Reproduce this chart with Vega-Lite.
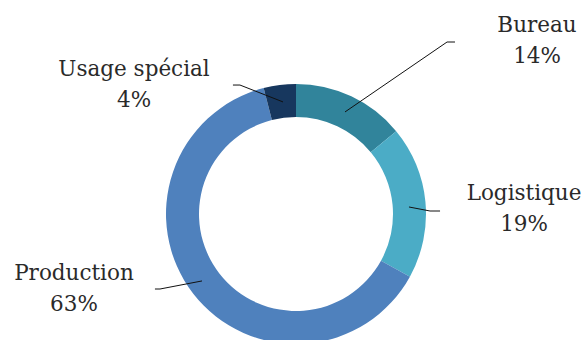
{
  "$schema": "https://vega.github.io/schema/vega-lite/v6.json",
  "width": 576,
  "height": 252,
  "autosize": {"type": "none"},
  "padding": {"left": 8, "top": 88, "right": 0, "bottom": 0},
  "background": "white",
  "config": {"view": {"stroke": null}},
  "datasets": {
    "slices": [
      {"segment": "Bureau", "share": 0.14, "rank": 1, "lx": 185.4, "ly": 140.0},
      {"segment": "Logistique", "share": 0.19, "rank": 2, "lx": 175.4, "ly": 10.8},
      {"segment": "Production", "share": 0.63, "rank": 3, "lx": -170.8, "ly": -50.8},
      {"segment": "Usage spécial", "share": 0.04, "rank": 4, "lx": -124.6, "ly": 106.2}
    ],
    "leaders": [
      {"segment": "Bureau", "step": 1, "x": 37.7, "y": 78.5},
      {"segment": "Bureau", "step": 2, "x": 116.2, "y": 132.3},
      {"segment": "Bureau", "step": 3, "x": 122.3, "y": 132.3},
      {"segment": "Logistique", "step": 1, "x": 86.9, "y": 5.4},
      {"segment": "Logistique", "step": 2, "x": 103.1, "y": 2.3},
      {"segment": "Logistique", "step": 3, "x": 110.8, "y": 2.3},
      {"segment": "Production", "step": 1, "x": -72.3, "y": -51.5},
      {"segment": "Production", "step": 2, "x": -104.6, "y": -57.7},
      {"segment": "Production", "step": 3, "x": -108.5, "y": -57.7},
      {"segment": "Usage spécial", "step": 1, "x": -10.0, "y": 86.2},
      {"segment": "Usage spécial", "step": 2, "x": -43.1, "y": 99.2},
      {"segment": "Usage spécial", "step": 3, "x": -48.5, "y": 99.2}
    ]
  },
  "layer": [
    {
      "data": {"name": "slices"},
      "mark": {"type": "arc", "outerRadius": 130, "innerRadius": 97},
      "encoding": {
        "theta": {"field": "share", "type": "quantitative", "stack": true},
        "order": {"field": "rank", "type": "quantitative"},
        "color": {
          "field": "segment",
          "type": "nominal",
          "scale": {
            "domain": ["Bureau", "Logistique", "Production", "Usage spécial"],
            "range": ["#31849B", "#4BACC6", "#4F81BD", "#17375E"]
          },
          "legend": null
        }
      }
    },
    {
      "data": {"name": "leaders"},
      "mark": {"type": "line", "color": "#111111", "strokeWidth": 1},
      "encoding": {
        "x": {"field": "x", "type": "quantitative", "scale": {"domain": [-221.54, 221.54], "nice": false, "zero": false}, "axis": null},
        "y": {"field": "y", "type": "quantitative", "scale": {"domain": [-96.92, 96.92], "nice": false, "zero": false}, "axis": null},
        "detail": {"field": "segment"},
        "order": {"field": "step", "type": "quantitative"}
      }
    },
    {
      "data": {"name": "slices"},
      "mark": {"type": "text", "font": "DejaVu Serif", "fontSize": 21.5, "color": "#2a2a2a", "baseline": "alphabetic", "align": "center"},
      "encoding": {
        "x": {"field": "lx", "type": "quantitative", "scale": {"domain": [-221.54, 221.54], "nice": false, "zero": false}, "axis": null},
        "y": {"field": "ly", "type": "quantitative", "scale": {"domain": [-96.92, 96.92], "nice": false, "zero": false}, "axis": null},
        "text": {"field": "segment"}
      }
    },
    {
      "data": {"name": "slices"},
      "mark": {"type": "text", "font": "DejaVu Serif", "fontSize": 21.5, "color": "#2a2a2a", "baseline": "alphabetic", "align": "center", "dy": 31},
      "encoding": {
        "x": {"field": "lx", "type": "quantitative", "scale": {"domain": [-221.54, 221.54], "nice": false, "zero": false}, "axis": null},
        "y": {"field": "ly", "type": "quantitative", "scale": {"domain": [-96.92, 96.92], "nice": false, "zero": false}, "axis": null},
        "text": {"field": "share", "format": ".0%"}
      }
    }
  ]
}
